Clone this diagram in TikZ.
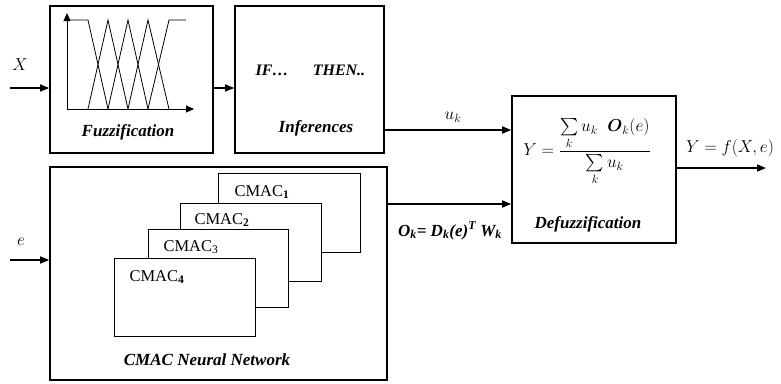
\documentclass[tikz,border=0pt]{standalone}
\usepackage{amsmath}
\usepackage{fontspec}
\setmainfont{Liberation Serif}
\usetikzlibrary{arrows.meta}
\begin{document}
\begin{tikzpicture}[x=1pt,y=-1pt,
  bigbox/.style={draw,line width=1.6pt,fill=white,inner sep=0pt},
  subbox/.style={draw,line width=0.8pt,fill=white,inner sep=0pt},
  conn/.style={line width=1.6pt,-{Triangle[length=9pt,width=7pt]}},
  thinline/.style={line width=0.8pt},
  lbl/.style={font=\fontsize{17}{19}\selectfont\bfseries\itshape,inner sep=0pt},
  cmaclbl/.style={font=\fontsize{16.5}{18}\selectfont,inner sep=0pt},
  mathlbl/.style={font=\fontsize{18}{20}\selectfont,inner sep=0pt}]
\useasboundingbox (0,0) rectangle (781,383);
% main boxes
\node[bigbox,minimum width=163pt,minimum height=147pt] (fuzz) at (131.5,79.5) {};
\node[bigbox,minimum width=149pt,minimum height=147pt] (inf) at (309.5,79.5) {};
\node[bigbox,minimum width=164pt,minimum height=147pt] (defuzz) at (594,169.5) {};
\node[bigbox,minimum width=337pt,minimum height=213pt] (cmac) at (218.5,273.5) {};
% fuzzy membership plot
\coordinate (o) at (67,109);
\coordinate (ytop) at (67,13);
\coordinate (xend) at (194,109);
\draw[thinline,-{Triangle[length=8pt,width=7pt]}] (o) -- (ytop);
\draw[thinline,-{Triangle[length=8pt,width=7pt]}] (o) -- (xend);
\draw[thinline] (67,20) -- (88,20) -- (108,109);
\draw[thinline] (88,109) -- (108,20) -- (128,109);
\draw[thinline] (108,109) -- (128,20) -- (148,109);
\draw[thinline] (128,109) -- (148,20) -- (169,109);
\draw[thinline] (148,109) -- (169,20) -- (186,20);
\node[lbl] (fuzzt) at (128,132) {Fuzzification};
% inference texts
\node[lbl,font=\fontsize{16}{18}\selectfont\bfseries\itshape] (ift) at (272,70) {IF\dots};
\node[lbl,font=\fontsize{16}{18}\selectfont\bfseries\itshape] (thent) at (339,70) {THEN..};
\node[lbl] (inft) at (316,128) {Inferences};
% defuzz texts
\node[mathlbl] (form) at (587,152) {$Y=\dfrac{\sum\limits_k u_k\;\;\boldsymbol{O}_k(e)}{\sum\limits_k u_k}$};
\node[lbl] (deft) at (588,224) {Defuzzification};
% CMAC sub boxes
\node[subbox,minimum width=142pt,minimum height=79pt] (c1) at (289,212.5) {};
\node[subbox,minimum width=141pt,minimum height=78pt] (c2) at (250.5,242) {};
\node[subbox,minimum width=140pt,minimum height=78pt] (c3) at (218,268) {};
\node[subbox,minimum width=141pt,minimum height=78pt] (c4) at (184.5,297) {};
\node[cmaclbl] (c1t) at (262,192) {CMAC\textsubscript{\bfseries 1}};
\node[cmaclbl] (c2t) at (222,220) {CMAC\textsubscript{\bfseries 2}};
\node[cmaclbl] (c3t) at (191,247) {CMAC\textsubscript{3}};
\node[cmaclbl] (c4t) at (157,277) {CMAC\textsubscript{\bfseries 4}};
\node[lbl] (cmact) at (207,360) {CMAC Neural Network};
% inputs / outputs
\coordinate (xin) at (10,88);
\coordinate (ein) at (10,260);
\coordinate (uky) at (0,130);
\coordinate (oky) at (0,204);
\coordinate (yout) at (766,168);
\node[mathlbl] (xl) at (20,65) {$X$};
\node[mathlbl] (el) at (21,242) {$e$};
\draw[conn] (xin) -- (xin -| fuzz.west);
\draw[conn] (fuzz.east |- xin) -- (inf.west |- xin);
\draw[conn] (inf.east |- uky) -- (defuzz.west |- uky);
\draw[conn] (cmac.east |- oky) -- (defuzz.west |- oky);
\draw[conn] (ein) -- (ein -| cmac.west);
\draw[conn] (defuzz.east |- yout) -- (yout);
\node[mathlbl] (ukl) at (453,117) {$u_k$};
\node[mathlbl] (yl) at (730,148) {$Y=f(X,e)$};
\node[font=\fontsize{17}{19}\selectfont\bfseries\itshape,inner sep=0pt] (okl) at (450,231) {O\textsubscript{k}= D\textsubscript{k}(e)\textsuperscript{T} W\textsubscript{k}};
\end{tikzpicture}
\end{document}
